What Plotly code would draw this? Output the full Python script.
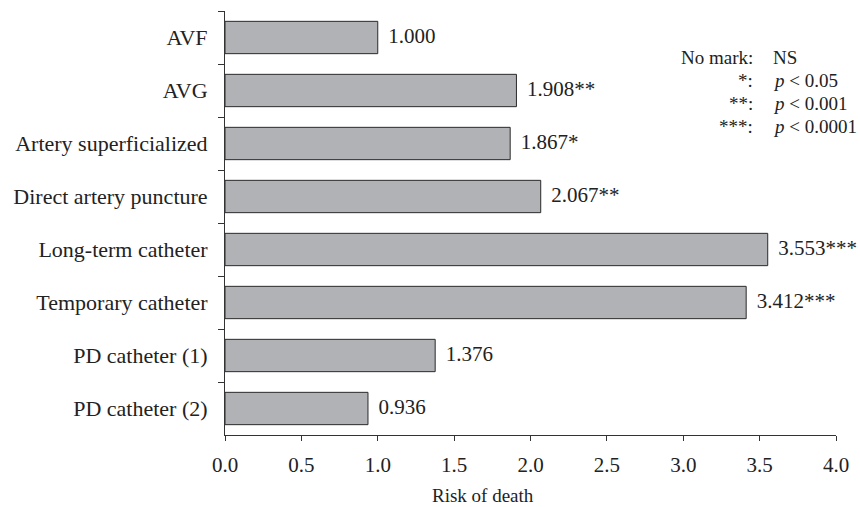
import plotly.graph_objects as go

# Vascular / dialysis access types and their relative risk of death
categories = [
    "AVF",
    "AVG",
    "Artery superficialized",
    "Direct artery puncture",
    "Long-term catheter",
    "Temporary catheter",
    "PD catheter (1)",
    "PD catheter (2)",
]
risk = [1.000, 1.908, 1.867, 2.067, 3.553, 3.412, 1.376, 0.936]
marks = ["", "**", "*", "**", "***", "***", "", ""]

x_ticks = [0.0, 0.5, 1.0, 1.5, 2.0, 2.5, 3.0, 3.5, 4.0]
x_ticklabels = [f"{v:.1f}" for v in x_ticks]

key_marks = ["No mark:", "*:", "**:", "***:"]
key_text = ["NS", "<i>p</i> < 0.05", "<i>p</i> < 0.001", "<i>p</i> < 0.0001"]

FONT = "Liberation Serif, Times New Roman, serif"
INK = "#222222"

labels = [f"  {v:.3f}{m}" for v, m in zip(risk, marks)]

fig = go.Figure()
fig.add_trace(go.Bar(
    y=categories,
    x=risk,
    orientation="h",
    marker=dict(color="#b1b2b6", line=dict(color="#2a2a2a", width=1)),
    width=0.61,
    hoverinfo="skip",
))
fig.add_trace(go.Scatter(
    y=categories,
    x=risk,
    mode="text",
    text=labels,
    textposition="middle right",
    textfont=dict(family=FONT, size=21, color=INK),
    cliponaxis=False,
    hoverinfo="skip",
))

# significance key in the upper right corner
for i, (k, t) in enumerate(zip(key_marks, key_text)):
    yy = 0.8915 - i * 0.0543
    fig.add_annotation(x=0.8667, y=yy, xref="paper", yref="paper", text=k,
                       showarrow=False, xanchor="right", yanchor="middle",
                       font=dict(family=FONT, size=19, color=INK))
    fig.add_annotation(x=0.8943, y=yy, xref="paper", yref="paper", text=t,
                       showarrow=False, xanchor="left", yanchor="middle",
                       font=dict(family=FONT, size=19, color=INK))

# x-axis caption
fig.add_annotation(x=0.4228, y=-0.142, xref="paper", yref="paper",
                   text="Risk of death", showarrow=False,
                   xanchor="center", yanchor="middle",
                   font=dict(family=FONT, size=19, color=INK))

fig.update_layout(
    width=860, height=507,
    margin=dict(l=225, r=20, t=11, b=72),
    paper_bgcolor="white", plot_bgcolor="white",
    showlegend=False,
    font=dict(family=FONT, size=21, color=INK),
    xaxis=dict(
        range=[0, 4.0],
        tickvals=x_ticks, ticktext=x_ticklabels,
        showgrid=False, zeroline=False,
        showline=True, linecolor="#333333", linewidth=1,
        ticks="outside", ticklen=5, tickcolor="#333333",
        ticklabelstandoff=6,
        tickfont=dict(family=FONT, size=21, color=INK),
    ),
    yaxis=dict(
        categoryorder="array", categoryarray=categories,
        autorange="reversed",
        showgrid=False, zeroline=False,
        showline=True, linecolor="#333333", linewidth=1,
        ticks="outside", ticklen=6, tickcolor="#333333",
        tickson="boundaries",
        ticklabelstandoff=12,
        tickfont=dict(family=FONT, size=22, color=INK),
    ),
)

fig.write_html("out.html")
